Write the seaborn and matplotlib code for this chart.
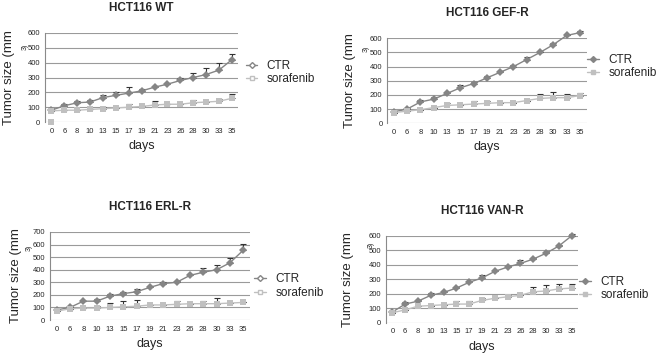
import numpy as np
import pandas as pd
import matplotlib
matplotlib.use("Agg")
import matplotlib.pyplot as plt
from matplotlib.lines import Line2D
import seaborn as sns

# data
days = ["0", "6", "8", "10", "13", "15", "17", "19", "21", "23", "26", "28", "30", "33", "35"]

wt_ctr = [80, 110, 130, 135, 165, 180, 195, 210, 235, 255, 280, 300, 320, 350, 420]
wt_ctr_err = [15, 10, 10, 15, 20, 20, 40, 10, 10, 10, 20, 30, 45, 45, 35]
wt_sor = [75, 80, 80, 85, 90, 95, 100, 105, 115, 120, 120, 130, 135, 140, 160]
wt_sor_err = [0, 0, 0, 0, 10, 0, 20, 0, 25, 0, 0, 20, 0, 15, 30]
wt_stray = 0  # lone sorafenib marker drawn at day 0 in the original

gef_ctr = [80, 100, 150, 170, 210, 250, 280, 320, 360, 400, 450, 500, 555, 620, 640]
gef_ctr_err = [5, 10, 15, 15, 10, 20, 10, 15, 10, 10, 20, 5, 10, 5, 10]
gef_sor = [75, 85, 95, 110, 125, 130, 135, 140, 145, 145, 160, 175, 180, 180, 195]
gef_sor_err = [0, 0, 0, 0, 20, 0, 20, 20, 0, 0, 0, 30, 40, 25, 20]

erl_ctr = [80, 100, 150, 150, 190, 210, 225, 260, 290, 300, 355, 380, 400, 455, 555]
erl_ctr_err = [10, 5, 5, 15, 20, 10, 20, 10, 15, 10, 10, 30, 40, 40, 50]
erl_sor = [70, 90, 95, 95, 100, 105, 110, 120, 120, 125, 130, 130, 130, 135, 140]
erl_sor_err = [0, 0, 0, 15, 35, 45, 50, 0, 0, 25, 0, 25, 45, 0, 0]

van_ctr = [75, 130, 150, 190, 210, 240, 280, 310, 355, 385, 410, 440, 480, 530, 600]
van_ctr_err = [5, 15, 10, 15, 10, 10, 10, 20, 10, 10, 25, 10, 10, 10, 15]
van_sor = [70, 90, 115, 120, 125, 130, 130, 155, 170, 180, 190, 215, 220, 235, 240]
van_sor_err = [0, 0, 0, 0, 0, 20, 20, 20, 0, 15, 0, 30, 40, 35, 30]

titles = ["HCT116 WT", "HCT116 GEF-R", "HCT116 ERL-R", "HCT116 VAN-R"]

sns.set_style("white")
plt.rcParams["font.family"] = ["Liberation Sans", "DejaVu Sans"]

ctr_col = "#858585"
sor_col = "#c0c0c0"

fig = plt.figure(figsize=(6.62, 3.58), dpi=100)

panels = [
    # title, ctr, ctr_err, sor, sor_err, ymax, axes rect, open legend markers,
    # legend anchor, ylabel x, superscript pos
    (titles[0], wt_ctr, wt_ctr_err, wt_sor, wt_sor_err, 600, [0.068, 0.659, 0.292, 0.249], True,
     (0.371, 0.797), -0.155, (0.038, 0.869)),
    (titles[1], gef_ctr, gef_ctr_err, gef_sor, gef_sor_err, 600, [0.585, 0.656, 0.301, 0.237], False,
     (0.887, 0.814), -0.158, (0.553, 0.865)),
    (titles[2], erl_ctr, erl_ctr_err, erl_sor, erl_sor_err, 700, [0.0755, 0.106, 0.302, 0.246], True,
     (0.384, 0.201), -0.14, (0.044, 0.307)),
    (titles[3], van_ctr, van_ctr_err, van_sor, van_sor_err, 600, [0.583, 0.098, 0.290, 0.243], False,
     (0.875, 0.194), -0.167, (0.561, 0.316)),
]

for i, (title, ctr, ctr_err, sor, sor_err, ymax, rect, open_leg, leg_xy, ylab_x, sup_xy) in enumerate(panels):
    ax = fig.add_axes(rect)
    df = pd.DataFrame({
        "day": days * 2,
        "size": ctr + sor,
        "group": ["CTR"] * len(days) + ["sorafenib"] * len(days),
    })
    pos = np.arange(len(days))

    # upper-only error bars
    ax.errorbar(pos, ctr, yerr=[np.zeros(len(days)), ctr_err], fmt="none",
                ecolor="#333333", elinewidth=0.8, capsize=2, capthick=0.8, zorder=2,
                clip_on=False)
    ax.errorbar(pos, sor, yerr=[np.zeros(len(days)), sor_err], fmt="none",
                ecolor="#333333", elinewidth=0.8, capsize=2, capthick=0.8, zorder=2,
                clip_on=False)

    sns.lineplot(data=df, x="day", y="size", hue="group", style="group",
                 markers={"CTR": "D", "sorafenib": "s"}, dashes=False,
                 palette={"CTR": ctr_col, "sorafenib": sor_col},
                 markersize=4, markeredgewidth=0, linewidth=1.0,
                 legend=False, ax=ax, zorder=3, clip_on=False)
    if i == 0:
        ax.plot([0], [wt_stray], marker="s", color=sor_col, markersize=5,
                markeredgewidth=0, clip_on=False, zorder=3)

    ax.set_xlim(-0.5, len(days) - 0.5)
    ax.set_ylim(0, ymax)
    ax.set_yticks(np.arange(0, ymax + 1, 100))
    ax.yaxis.grid(True, color="#9a9a9a", linewidth=0.8)
    ax.set_axisbelow(True)
    for s in ["top", "right", "bottom"]:
        ax.spines[s].set_visible(False)
    ax.spines["left"].set_color("#8a8a8a")
    ax.spines["left"].set_linewidth(0.8)
    ax.tick_params(axis="y", length=2, width=0.6, color="#8a8a8a", labelsize=5.5, pad=1.5)
    ax.tick_params(axis="x", length=0, labelsize=5.5, pad=4)
    ax.set_xlabel("days", fontsize=9, labelpad=4)
    ax.set_ylabel("Tumor size (mm", fontsize=9.5)
    ax.yaxis.set_label_coords(ylab_x, 0.5)
    ax.set_title(title, fontsize=8.5, fontweight="bold", pad=16)

    handles = [
        Line2D([], [], color=ctr_col, marker="D", markersize=3,
               markerfacecolor="white" if open_leg else ctr_col, markeredgecolor=ctr_col, lw=1),
        Line2D([], [], color=sor_col, marker="s", markersize=3,
               markerfacecolor="white" if open_leg else sor_col, markeredgecolor=sor_col, lw=1),
    ]
    fig.legend(handles, ["CTR", "sorafenib"], loc="center left", bbox_to_anchor=leg_xy,
               bbox_transform=fig.transFigure, frameon=False, fontsize=8.5,
               handlelength=1.0, handletextpad=0.8, labelspacing=0.1,
               borderaxespad=0, borderpad=0)

    # cut-off superscript of the y label
    fig.text(sup_xy[0], sup_xy[1], "3)", rotation=90, fontsize=5, ha="center", va="center")

fig.savefig("out.png", dpi=100)
